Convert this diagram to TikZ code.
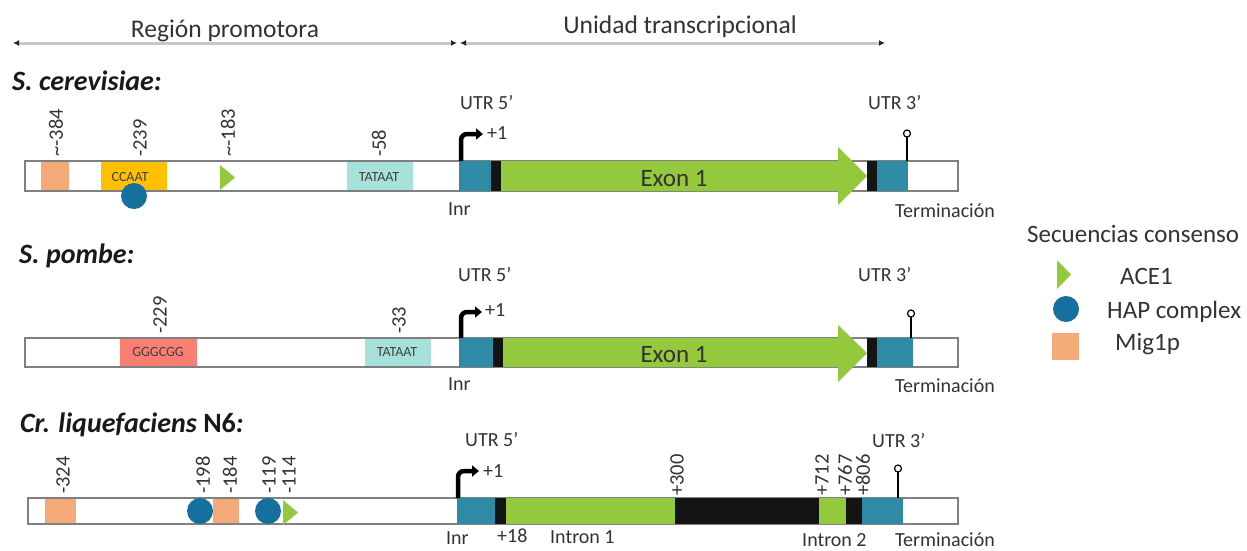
\documentclass[tikz,border=0pt]{standalone}
\usepackage{fontspec}
\setmainfont{Carlito}
\usetikzlibrary{arrows.meta}
\definecolor{txt}{HTML}{333333}
\definecolor{mig}{HTML}{F4AA78}
\definecolor{ccaat}{HTML}{FFC000}
\definecolor{ace}{HTML}{95C93D}
\definecolor{utr}{HTML}{2F8AA5}
\definecolor{hap}{HTML}{16709E}
\definecolor{tata}{HTML}{A6E1DB}
\definecolor{gc}{HTML}{FA7F72}
\definecolor{dark}{HTML}{141414}
\definecolor{spanline}{HTML}{C8C8C8}
\definecolor{barline}{HTML}{808080}
\tikzset{
  lbl/.style={font=\fontsize{20}{24}\selectfont, text=txt, inner sep=0pt, anchor=base west},
  big/.style={font=\fontsize{25.5}{30}\selectfont, text=txt, inner sep=0pt, anchor=base},
  leg/.style={font=\fontsize{25}{30}\selectfont, text=txt, inner sep=0pt, anchor=base west},
  exonlbl/.style={font=\fontsize{25}{30}\selectfont, text=txt, inner sep=0pt, anchor=base},
  num/.style={font=\fontsize{20.5}{24}\selectfont, text=txt, inner sep=0pt, rotate=90, anchor=west},
  seq/.style={font=\fontsize{14}{16}\selectfont, text=black!75, inner sep=0pt},
  title/.style={font=\fontsize{28}{32}\selectfont\bfseries\itshape, text=black!90, inner sep=0pt, anchor=base west},
  gene/.style={draw=barline, line width=1.5pt, fill=white},
  prom/.style={line width=4.5pt, rounded corners=6pt, -{Triangle[length=7pt,width=11pt]}},
  lolli/.style={line width=1.5pt, black},
  spanarrow/.style={draw=spanline, line width=3pt, {Latex[length=6pt,width=6pt,color=black!85]}-{Latex[length=6pt,width=6pt,color=black!85]}},
}
\begin{document}
\begin{tikzpicture}[x=1pt,y=-1pt]
\useasboundingbox (0,0) rectangle (1247,550);
\fill[white] (0,0) rectangle (1247,550);

% ---------- top spans ----------
\coordinate (pa) at (13,43);
\coordinate (pb) at (457,43);
\coordinate (ta) at (460,43);
\coordinate (tb) at (885,43);
\draw[spanarrow] (pa) -- (pb);
\draw[spanarrow] (ta) -- (tb);
\node[big] (region) at (225,37) {Región promotora};
\node[big] (unidad) at (680,33) {Unidad transcripcional};

% ---------- S. cerevisiae ----------
\node[title] (sc) at (12,90) {S. cerevisiae:};
\draw[gene] (25,161) rectangle (958,191);
\fill[mig] (41,162) rectangle (69,190);
\fill[ccaat] (101,162) rectangle (167,190);
\node[seq] (sc-ccaat) at (130,177) {CCAAT};
\fill[hap] (134,196) circle (13);
\fill[ace] (220,165) -- (235,177.5) -- (220,190) -- cycle;
\fill[tata] (347,162) rectangle (413,190);
\node[seq] (sc-tata) at (379,177) {TATAAT};
\fill[utr] (459,161) rectangle (491,191);
\fill[dark] (491,161) rectangle (501,191);
\fill[ace] (501,161) -- (838,161) -- (838,147) -- (867,176) -- (838,205) -- (838,191) -- (501,191) -- cycle;
\fill[dark] (867,161) rectangle (877,191);
\fill[utr] (877,161) rectangle (908,191);
\node[exonlbl] (sc-exon) at (674,186) {Exon 1};
\draw[prom] (461,161) -- (461,134) -- (483,134);
\draw[lolli] (907,161) -- (907,137);
\draw[lolli, fill=white, line width=1.2pt] (907,133.5) circle (3.5);
\node[num] (sc-384) at (56,157) {\textasciitilde-384};
\node[num] (sc-239) at (140,157) {-239};
\node[num] (sc-183) at (228,157) {\textasciitilde-183};
\node[num] (sc-58) at (379,157) {-58};
\node[lbl] (sc-utr5) at (460,109) {UTR 5’};
\node[lbl] (sc-p1) at (487,139) {+1};
\node[lbl] (sc-utr3) at (868,109) {UTR 3’};
\node[lbl] (sc-inr) at (448,215) {Inr};
\node[lbl] (sc-term) at (895,217) {Terminación};

% ---------- S. pombe ----------
\node[title] (sp) at (19,263) {S. pombe:};
\draw[gene] (25,338) rectangle (958,367);
\fill[gc] (120,339) rectangle (197,366);
\node[seq] (sp-gc) at (158,352) {GGGCGG};
\fill[tata] (365,339) rectangle (431,366);
\node[seq] (sp-tata) at (397,352) {TATAAT};
\fill[utr] (459,338) rectangle (493,367);
\fill[dark] (493,338) rectangle (503,367);
\fill[ace] (503,338) -- (838,338) -- (838,325) -- (867,353) -- (838,382) -- (838,367) -- (503,367) -- cycle;
\fill[dark] (867,338) rectangle (877,367);
\fill[utr] (877,338) rectangle (913,367);
\node[exonlbl] (sp-exon) at (674,362) {Exon 1};
\draw[prom] (461,338) -- (461,312) -- (482,312);
\draw[lolli] (911,338) -- (911,317);
\draw[lolli, fill=white, line width=1.2pt] (911,313.5) circle (3.5);
\node[num] (sp-229) at (160,334) {-229};
\node[num] (sp-33) at (399,334) {-33};
\node[lbl] (sp-utr5) at (458,281) {UTR 5’};
\node[lbl] (sp-p1) at (485,316) {+1};
\node[lbl] (sp-utr3) at (858,281) {UTR 3’};
\node[lbl] (sp-inr) at (448,390) {Inr};
\node[lbl] (sp-term) at (895,392) {Terminación};

% ---------- Cr. liquefaciens N6 ----------
\node[title] (cl) at (20,432) {Cr. liquefaciens \textup{N6}:};
\draw[gene] (28,498) rectangle (958,524);
\fill[mig] (45,499) rectangle (76,523);
\fill[hap] (200,511) circle (13);
\fill[mig] (213,499) rectangle (239,523);
\fill[hap] (268,511) circle (13);
\fill[ace] (283,500) -- (298,512.5) -- (283,525) -- cycle;
\fill[utr] (457,498) rectangle (495,524);
\fill[dark] (495,498) rectangle (506,524);
\fill[ace] (506,498) rectangle (675,524);
\fill[dark] (675,498) rectangle (819,524);
\fill[ace] (819,498) rectangle (846,524);
\fill[dark] (846,498) rectangle (862,524);
\fill[utr] (862,498) rectangle (903,524);
\draw[prom] (458,498) -- (458,471) -- (479,471);
\draw[lolli] (898,498) -- (898,472);
\draw[lolli, fill=white, line width=1.2pt] (898,468.5) circle (3.5);
\node[num] (cl-324) at (63,494) {-324};
\node[num] (cl-198) at (203,494) {-198};
\node[num] (cl-184) at (230,494) {-184};
\node[num] (cl-119) at (269,494) {-119};
\node[num] (cl-114) at (289,494) {-114};
\node[num] (cl-300) at (677,496) {+300};
\node[num] (cl-712) at (822,496) {+712};
\node[num] (cl-767) at (845,496) {+767};
\node[num] (cl-806) at (863,496) {+806};
\node[lbl] (cl-utr5) at (465,446) {UTR 5’};
\node[lbl] (cl-p1) at (483,477) {+1};
\node[lbl] (cl-utr3) at (872,447) {UTR 3’};
\node[lbl] (cl-18) at (497,542) {+18};
\node[lbl] (cl-int1) at (550,543) {Intron 1};
\node[lbl] (cl-int2) at (802,546) {Intron 2};
\node[lbl] (cl-inr) at (446,544) {Inr};
\node[lbl] (cl-term) at (895,546) {Terminación};

% ---------- legend ----------
\node[leg] (legtitle) at (1027,242) {Secuencias consenso};
\fill[ace] (1057,260) -- (1071,274.5) -- (1057,289) -- cycle;
\fill[hap] (1066,309) circle (13);
\fill[mig] (1052,333) rectangle (1079,360);
\node[leg] (leg-ace) at (1120,284) {ACE1};
\node[leg] (leg-hap) at (1107,318) {HAP complex};
\node[leg] (leg-mig) at (1115,350) {Mig1p};
\end{tikzpicture}
\end{document}
